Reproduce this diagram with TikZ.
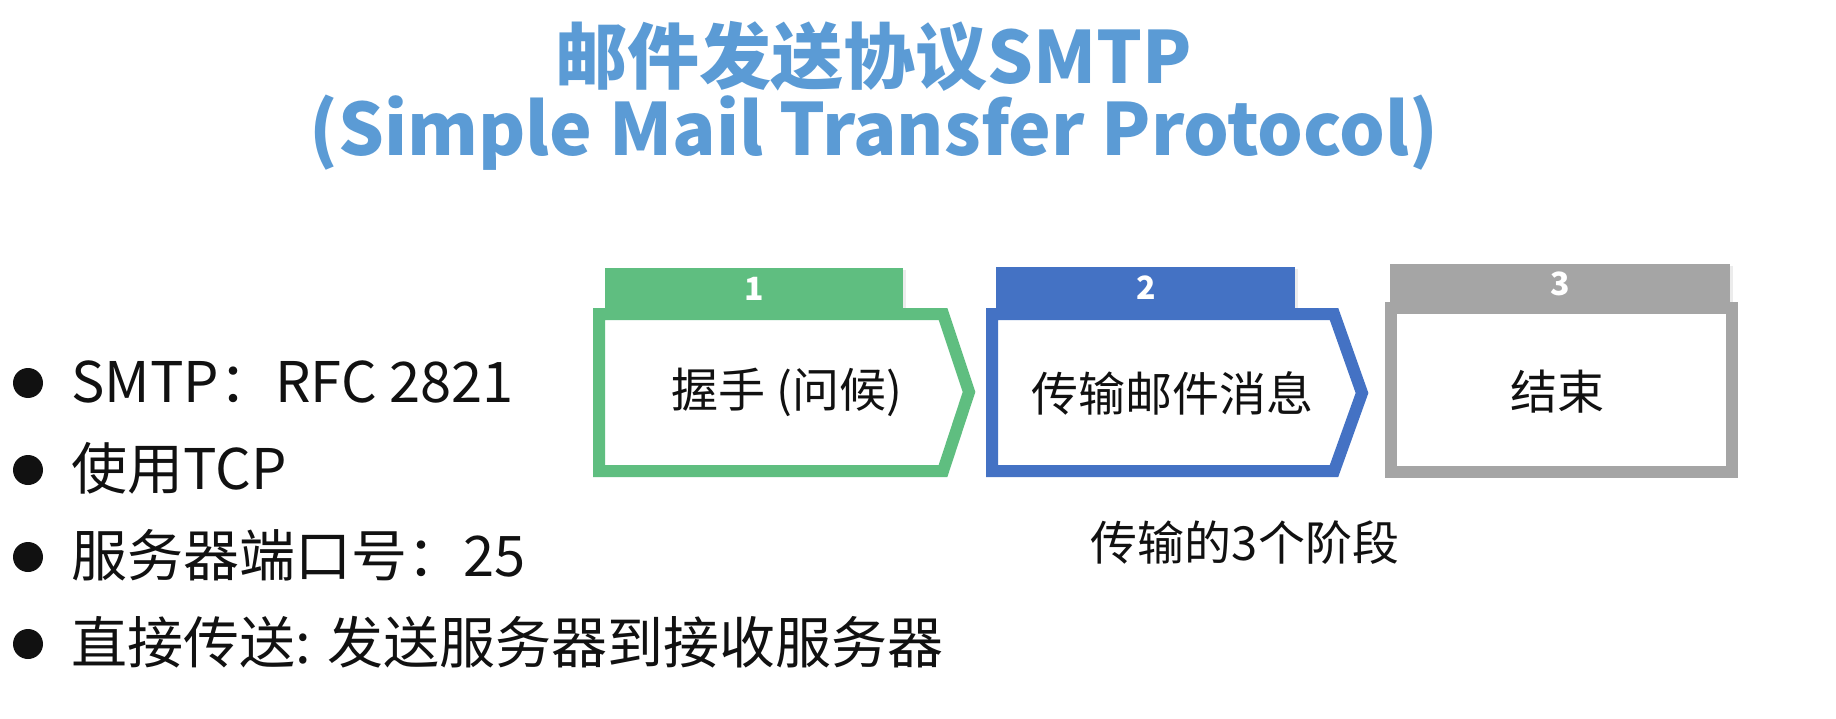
\documentclass[tikz,border=0pt]{standalone}
\usepackage{fontspec}
\setmainfont{Noto Sans CJK SC}
\usetikzlibrary{shadows}
\definecolor{titleblue}{RGB}{91,155,213}
\definecolor{stagegreen}{RGB}{95,190,128}
\definecolor{stageblue}{RGB}{68,114,196}
\definecolor{stagegray}{RGB}{165,165,165}
\definecolor{ink}{RGB}{17,17,17}
\tikzset{
  frame/.style={line width=12pt, line join=miter, fill=white,
    drop shadow={shadow xshift=4pt, shadow yshift=-4pt, opacity=0.22}},
  tabbar/.style={draw=none, drop shadow={shadow xshift=3pt, shadow yshift=-2pt, opacity=0.15}},
  tabnum/.style={text=white, font=\fontsize{32}{38}\selectfont\bfseries},
  stagetext/.style={text=ink, font=\fontsize{47}{56}\selectfont},
  bullettext/.style={text=ink, anchor=base west, font=\fontsize{56}{66}\selectfont},
  dot/.style={circle, fill=ink, inner sep=0pt, minimum size=30pt},
  titleline/.style={text=titleblue, anchor=base, font=\bfseries}
}
\begin{document}
\begin{tikzpicture}[x=1pt, y=-1pt]
\useasboundingbox (0,0) rectangle (1836,719);
\fill[white] (0,0) rectangle (1836,719);

% title
\node[titleline, font=\fontsize{72}{86}\selectfont\bfseries] (t1) at (874,84) {邮件发送协议SMTP};
\node[titleline, font=\fontsize{72}{86}\selectfont\bfseries] (t2) at (874,156) {(Simple Mail Transfer Protocol)};

% bullet list
\foreach \i/\yb/\txt in {1/402/{SMTP：RFC 2821}, 2/489/{使用TCP}, 3/576/{服务器端口号：25}, 4/663/{直接传送: 发送服务器到接收服务器}}{
  \node[dot] (b\i) at (28,\yb-19) {};
  \node[bullettext] (l\i) at (68,\yb) {\txt};
}

% stage 1
\fill[stagegreen, tabbar] (605,268) rectangle (903,308);
\draw[stagegreen, frame] (599,314) -- (943,314) -- (969,392) -- (943,471) -- (599,471) -- cycle;
\node[tabnum] (n1) at (754,289) {1};
\node[stagetext] (s1) at (787,392) {握手 (问候)};

% stage 2
\fill[stageblue, tabbar] (996,267) rectangle (1295,308);
\draw[stageblue, frame] (992,314) -- (1334,314) -- (1362,393) -- (1334,471) -- (992,471) -- cycle;
\node[tabnum] (n2) at (1146,288) {2};
\node[stagetext] (s2) at (1172,393) {传输邮件消息};

% stage 3
\fill[stagegray, tabbar] (1390,264) rectangle (1730,303);
\draw[stagegray, frame] (1391,308) rectangle (1732,472);
\node[tabnum] (n3) at (1560,284) {3};
\node[stagetext] (s3) at (1557,392) {结束};

% caption
\node[stagetext] (cap) at (1245,543) {传输的3个阶段};
\end{tikzpicture}
\end{document}
